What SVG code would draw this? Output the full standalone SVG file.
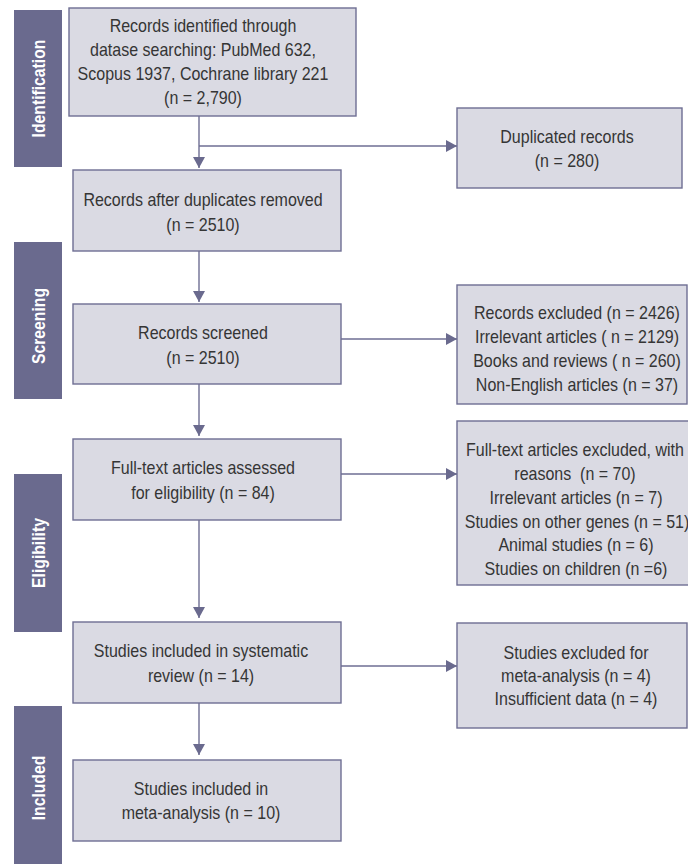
<svg xmlns="http://www.w3.org/2000/svg" width="688" height="864" viewBox="0 0 688 864">
<style>
.bar{fill:#6a6a8e}
.bl{font-family:"Liberation Sans",Arial,sans-serif;font-weight:bold;font-size:18.5px;fill:#ffffff;text-anchor:middle}
.box{fill:#dadae3;stroke:#6e6e93;stroke-width:1.4}
.t{font-family:"Liberation Sans",Arial,sans-serif;font-size:18px;fill:#353535;text-anchor:middle}
.c{fill:none;stroke:#6e6e93;stroke-width:1.4}
</style>
<defs>
<marker id="ah" viewBox="0 0 11 12" refX="11" refY="6" markerWidth="11" markerHeight="12" markerUnits="userSpaceOnUse" orient="auto">
<path d="M0,0 L11,6 L0,12 Z" fill="#6a6a8e"/>
</marker>
</defs>
<rect width="688" height="864" fill="#ffffff"/>
<g id="stages">
<g id="stage-identification"><rect class="bar" x="14" y="10" width="48" height="157"/><text class="bl" transform="translate(45,88.5) rotate(-90) scale(0.85,1)">Identification</text></g>
<g id="stage-screening"><rect class="bar" x="14" y="242" width="48" height="157"/><text class="bl" transform="translate(45,326) rotate(-90) scale(0.85,1)">Screening</text></g>
<g id="stage-eligibility"><rect class="bar" x="14" y="474" width="48" height="158"/><text class="bl" transform="translate(45,553) rotate(-90) scale(0.85,1)">Eligibility</text></g>
<g id="stage-included"><rect class="bar" x="14" y="706" width="48" height="164"/><text class="bl" transform="translate(45,788) rotate(-90) scale(0.85,1)">Included</text></g>
</g>
<g id="connectors">
<path class="c" d="M199,116 V168" marker-end="url(#ah)"/>
<path class="c" d="M199,146 H457" marker-end="url(#ah)"/>
<path class="c" d="M199,251 V302" marker-end="url(#ah)"/>
<path class="c" d="M341,339 H457" marker-end="url(#ah)"/>
<path class="c" d="M199,384 V436" marker-end="url(#ah)"/>
<path class="c" d="M341,474 H457" marker-end="url(#ah)"/>
<path class="c" d="M199,520 V618" marker-end="url(#ah)"/>
<path class="c" d="M341,666 H457" marker-end="url(#ah)"/>
<path class="c" d="M199,703 V755" marker-end="url(#ah)"/>
</g>
<g id="n1"><rect class="box" x="69" y="8" width="287" height="108"/>
<text class="t" transform="translate(203,32) scale(0.89,1)">Records identified through</text>
<text class="t" transform="translate(203,56) scale(0.89,1)">datase searching: PubMed 632,</text>
<text class="t" transform="translate(203,80) scale(0.89,1)">Scopus 1937, Cochrane library 221</text>
<text class="t" transform="translate(203,104) scale(0.89,1)">(n = 2,790)</text></g>
<g id="n2"><rect class="box" x="457" y="108" width="225" height="80"/>
<text class="t" transform="translate(567,143) scale(0.89,1)">Duplicated records</text>
<text class="t" transform="translate(567,167) scale(0.89,1)">(n = 280)</text></g>
<g id="n3"><rect class="box" x="73" y="170" width="268" height="81"/>
<text class="t" transform="translate(203,206) scale(0.89,1)">Records after duplicates removed</text>
<text class="t" transform="translate(203,231) scale(0.89,1)">(n = 2510)</text></g>
<g id="n4"><rect class="box" x="73" y="304" width="268" height="80"/>
<text class="t" transform="translate(203,339) scale(0.89,1)">Records screened</text>
<text class="t" transform="translate(203,364) scale(0.89,1)">(n = 2510)</text></g>
<g id="n5"><rect class="box" x="457" y="285" width="230" height="119"/>
<text class="t" transform="translate(577,319) scale(0.89,1)">Records excluded (n = 2426)</text>
<text class="t" transform="translate(577,343) scale(0.89,1)">Irrelevant articles ( n = 2129)</text>
<text class="t" transform="translate(577,367) scale(0.89,1)">Books and reviews ( n = 260)</text>
<text class="t" transform="translate(577,391) scale(0.89,1)">Non-English articles (n = 37)</text></g>
<g id="n6"><rect class="box" x="73" y="439" width="268" height="81"/>
<text class="t" transform="translate(203,474) scale(0.89,1)">Full-text articles assessed</text>
<text class="t" transform="translate(203,499) scale(0.89,1)">for eligibility (n = 84)</text></g>
<g id="n7"><rect class="box" x="457" y="421" width="236" height="164"/>
<text class="t" transform="translate(575,456) scale(0.89,1)">Full-text articles excluded, with</text>
<text class="t" transform="translate(575,480) scale(0.89,1)" xml:space="preserve">reasons  (n = 70)</text>
<text class="t" transform="translate(576,504) scale(0.89,1)">Irrelevant articles (n = 7)</text>
<text class="t" transform="translate(577,528) scale(0.89,1)">Studies on other genes (n = 51)</text>
<text class="t" transform="translate(576,551) scale(0.89,1)">Animal studies (n = 6)</text>
<text class="t" transform="translate(576,575) scale(0.89,1)">Studies on children (n =6)</text></g>
<g id="n8"><rect class="box" x="73" y="622" width="268" height="81"/>
<text class="t" transform="translate(201,657) scale(0.89,1)">Studies included in systematic</text>
<text class="t" transform="translate(201,682) scale(0.89,1)">review (n = 14)</text></g>
<g id="n9"><rect class="box" x="457" y="623" width="230" height="105"/>
<text class="t" transform="translate(576,659) scale(0.89,1)">Studies excluded for</text>
<text class="t" transform="translate(576,682) scale(0.89,1)">meta-analysis (n = 4)</text>
<text class="t" transform="translate(576,705) scale(0.89,1)">Insufficient data (n = 4)</text></g>
<g id="n10"><rect class="box" x="73" y="760" width="268" height="81"/>
<text class="t" transform="translate(201,795) scale(0.89,1)">Studies included in</text>
<text class="t" transform="translate(201,819) scale(0.89,1)">meta-analysis (n = 10)</text></g>
</svg>
